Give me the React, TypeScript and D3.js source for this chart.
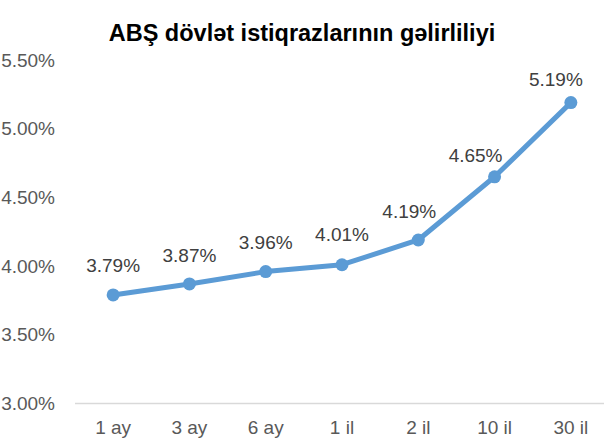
import React, { useEffect, useRef } from 'react';
import * as d3 from 'd3';

// maturities and yields
const maturities = ['1 ay', '3 ay', '6 ay', '1 il', '2 il', '10 il', '30 il'];
const yields = [3.79, 3.87, 3.96, 4.01, 4.19, 4.65, 5.19];
const yTicks = [3.0, 3.5, 4.0, 4.5, 5.0, 5.5];
const title = 'ABŞ dövlət istiqrazlarının gəlirliliyi';

// label nudges (Excel moved a few labels off the line)
const labelDx = [0, 0, 0, 0, -9, -19, -15];
const labelDy = [-23, -22, -23, -24, -22, -15, -17];

const App = () => {
  const ref = useRef<SVGSVGElement>(null);

  useEffect(() => {
    document.body.style.margin = '0';
    const svg = d3.select(ref.current);
    svg.selectAll('*').remove();

    const width = 604, height = 438;
    const font = 'Liberation Sans, Arial, sans-serif';

    svg.attr('width', width).attr('height', height);

    const x = d3.scaleBand<string>()
      .domain(maturities)
      .range([75, 609]);

    const y = d3.scaleLinear()
      .domain([3.0, 5.5])
      .range([403.5, 60]);

    // title
    svg.append('text')
      .attr('x', 302)
      .attr('y', 41)
      .attr('text-anchor', 'middle')
      .style('font-family', font)
      .style('font-weight', 'bold')
      .style('font-size', '23.5px')
      .attr('fill', '#000')
      .text(title);

    // y tick labels
    svg.selectAll('.ytick')
      .data(yTicks)
      .enter()
      .append('text')
      .attr('x', 55)
      .attr('y', d => y(d))
      .attr('dy', '0.35em')
      .attr('text-anchor', 'end')
      .style('font-family', font)
      .style('font-size', '19px')
      .attr('fill', '#595959')
      .text(d => d3.format('.2f')(d) + '%');

    // x axis line
    svg.append('line')
      .attr('x1', x.range()[0])
      .attr('x2', x.range()[1])
      .attr('y1', y(3.0))
      .attr('y2', y(3.0))
      .attr('stroke', '#D9D9D9')
      .attr('stroke-width', 1.5);

    // x labels
    svg.selectAll('.xtick')
      .data(maturities)
      .enter()
      .append('text')
      .attr('x', d => (x(d) ?? 0) + x.bandwidth() / 2)
      .attr('y', 434)
      .attr('text-anchor', 'middle')
      .style('font-family', font)
      .style('font-size', '19px')
      .attr('fill', '#595959')
      .text(d => d);

    const cx = (i: number) => (x(maturities[i]) ?? 0) + x.bandwidth() / 2;

    const line = d3.line<number>()
      .x((d, i) => cx(i))
      .y(d => y(d));

    svg.append('path')
      .datum(yields)
      .attr('d', line)
      .attr('fill', 'none')
      .attr('stroke', '#5B9BD5')
      .attr('stroke-width', 5)
      .attr('stroke-linejoin', 'round')
      .attr('stroke-linecap', 'round');

    svg.selectAll('circle')
      .data(yields)
      .enter()
      .append('circle')
      .attr('cx', (d, i) => cx(i))
      .attr('cy', d => y(d))
      .attr('r', 6.5)
      .attr('fill', '#5B9BD5');

    // data labels
    svg.selectAll('.lbl')
      .data(yields)
      .enter()
      .append('text')
      .attr('x', (d, i) => cx(i) + labelDx[i])
      .attr('y', (d, i) => y(d) + labelDy[i])
      .attr('text-anchor', 'middle')
      .style('font-family', font)
      .style('font-size', '19px')
      .attr('fill', '#404040')
      .text(d => d3.format('.2f')(d) + '%');
  }, []);

  return <svg ref={ref} style={{ display: 'block' }}></svg>;
};

export default App;
